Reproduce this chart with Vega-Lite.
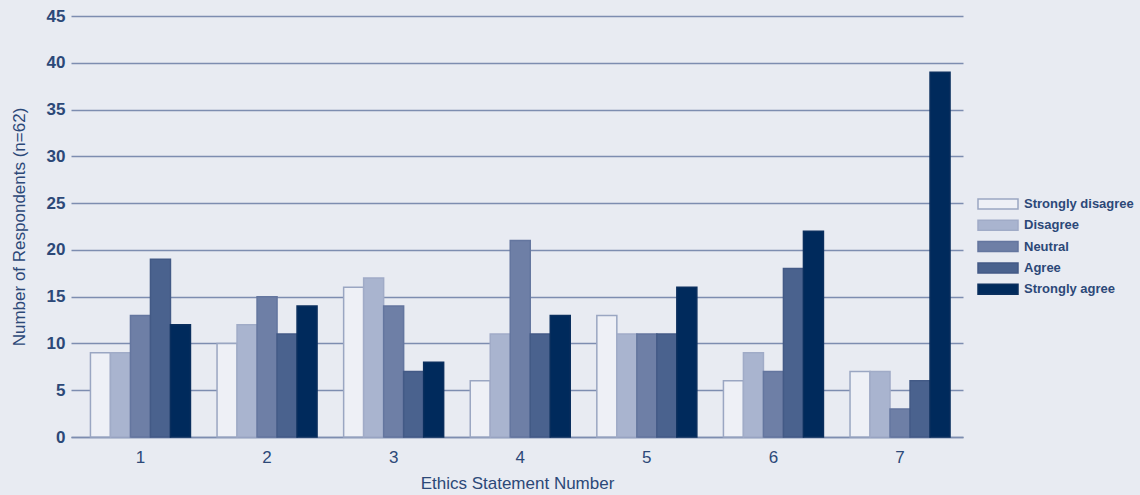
{
  "$schema": "https://vega.github.io/schema/vega-lite/v6.json",
  "autosize": "none",
  "width": 892,
  "height": 421,
  "padding": {"left": 71, "top": 16, "right": 177, "bottom": 58},
  "background": "#e8ebf2",
  "data": {
    "values": [
      {"statement": "1", "response": "Strongly disagree", "count": 9},
      {"statement": "1", "response": "Disagree", "count": 9},
      {"statement": "1", "response": "Neutral", "count": 13},
      {"statement": "1", "response": "Agree", "count": 19},
      {"statement": "1", "response": "Strongly agree", "count": 12},
      {"statement": "2", "response": "Strongly disagree", "count": 10},
      {"statement": "2", "response": "Disagree", "count": 12},
      {"statement": "2", "response": "Neutral", "count": 15},
      {"statement": "2", "response": "Agree", "count": 11},
      {"statement": "2", "response": "Strongly agree", "count": 14},
      {"statement": "3", "response": "Strongly disagree", "count": 16},
      {"statement": "3", "response": "Disagree", "count": 17},
      {"statement": "3", "response": "Neutral", "count": 14},
      {"statement": "3", "response": "Agree", "count": 7},
      {"statement": "3", "response": "Strongly agree", "count": 8},
      {"statement": "4", "response": "Strongly disagree", "count": 6},
      {"statement": "4", "response": "Disagree", "count": 11},
      {"statement": "4", "response": "Neutral", "count": 21},
      {"statement": "4", "response": "Agree", "count": 11},
      {"statement": "4", "response": "Strongly agree", "count": 13},
      {"statement": "5", "response": "Strongly disagree", "count": 13},
      {"statement": "5", "response": "Disagree", "count": 11},
      {"statement": "5", "response": "Neutral", "count": 11},
      {"statement": "5", "response": "Agree", "count": 11},
      {"statement": "5", "response": "Strongly agree", "count": 16},
      {"statement": "6", "response": "Strongly disagree", "count": 6},
      {"statement": "6", "response": "Disagree", "count": 9},
      {"statement": "6", "response": "Neutral", "count": 7},
      {"statement": "6", "response": "Agree", "count": 18},
      {"statement": "6", "response": "Strongly agree", "count": 22},
      {"statement": "7", "response": "Strongly disagree", "count": 7},
      {"statement": "7", "response": "Disagree", "count": 7},
      {"statement": "7", "response": "Neutral", "count": 3},
      {"statement": "7", "response": "Agree", "count": 6},
      {"statement": "7", "response": "Strongly agree", "count": 39}
    ]
  },
  "mark": {"type": "bar", "strokeWidth": 1.5},
  "encoding": {
    "x": {
      "field": "statement",
      "type": "nominal",
      "title": "Ethics Statement Number",
      "scale": {"paddingInner": 0.21, "paddingOuter": 0.128, "align": 0.6},
      "axis": {
        "labelAngle": 0,
        "ticks": false,
        "domain": true,
        "domainColor": "#7d8db0",
        "domainWidth": 1.5,
        "labelPadding": 12,
        "labelFontWeight": "normal",
        "titlePadding": 10
      }
    },
    "xOffset": {
      "field": "response",
      "type": "nominal",
      "sort": ["Strongly disagree", "Disagree", "Neutral", "Agree", "Strongly agree"],
      "scale": {"paddingInner": 0}
    },
    "y": {
      "field": "count",
      "type": "quantitative",
      "title": "Number of Respondents (n=62)",
      "scale": {"domain": [0, 45], "nice": false},
      "axis": {
        "values": [0, 5, 10, 15, 20, 25, 30, 35, 40, 45],
        "ticks": false,
        "domain": false,
        "grid": true,
        "gridColor": "#7d8db0",
        "gridWidth": 1.5,
        "gridOpacity": 1,
        "labelPadding": 6,
        "titlePadding": 18
      }
    },
    "fill": {
      "field": "response",
      "type": "nominal",
      "title": null,
      "sort": ["Strongly disagree", "Disagree", "Neutral", "Agree", "Strongly agree"],
      "scale": {
        "domain": ["Strongly disagree", "Disagree", "Neutral", "Agree", "Strongly agree"],
        "range": ["#eef0f6", "#a9b4cf", "#6e7fa6", "#4a628e", "#002a5c"]
      },
      "legend": {
        "orient": "none",
        "legendX": 916,
        "legendY": 177,
        "symbolType": "M-2,-0.5L2,-0.5L2,0.5L-2,0.5Z",
        "symbolSize": 400,
        "symbolStrokeWidth": 1.5,
        "labelFontSize": 13,
        "labelFont": "Liberation Sans",
        "labelFontWeight": "bold",
        "labelColor": "#2c4878",
        "rowPadding": 2.3,
        "labelOffset": 15
      }
    },
    "stroke": {
      "field": "response",
      "type": "nominal",
      "scale": {
        "domain": ["Strongly disagree", "Disagree", "Neutral", "Agree", "Strongly agree"],
        "range": ["#9aa6c2", "#a0abc7", "#64769f", "#435a86", "#0a2f5e"]
      }
    }
  },
  "config": {
    "view": {"stroke": null},
    "axis": {
      "labelFont": "Liberation Sans",
      "labelFontSize": 17,
      "labelFontWeight": "bold",
      "labelColor": "#2c4878",
      "titleFont": "Liberation Sans",
      "titleFontSize": 17,
      "titleFontWeight": "normal",
      "titleColor": "#2c4878"
    }
  }
}
